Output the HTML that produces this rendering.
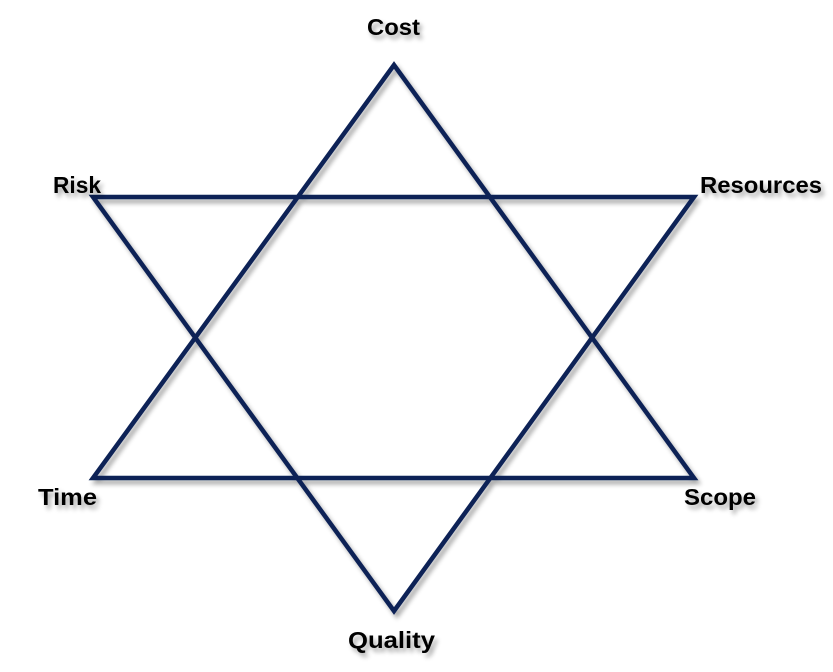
<!DOCTYPE html>
<html><head><meta charset="utf-8"><style>
html,body{margin:0;padding:0;background:#fff;width:833px;height:672px;overflow:hidden}
svg{display:block}
text{font-family:"Liberation Sans",sans-serif;font-weight:bold;font-size:23px;fill:#000}
</style></head><body>
<svg width="833" height="672" viewBox="0 0 833 672">
<defs>
<filter id="sh" x="-20%" y="-20%" width="150%" height="160%">
<feGaussianBlur in="SourceAlpha" stdDeviation="2.5"/>
<feOffset dx="3" dy="4" result="b"/>
<feComponentTransfer><feFuncA type="linear" slope="0.35"/></feComponentTransfer>
<feMerge><feMergeNode/><feMergeNode in="SourceGraphic"/></feMerge>
</filter>
</defs>
<g fill="none" stroke="#0d2257" stroke-width="4.5" stroke-linejoin="miter" filter="url(#sh)">
<polygon points="394,65 93,478 694,478"/>
<polygon points="93,197 694,197 394,611"/>
</g>
<g filter="url(#sh)">
<text x="367" y="35" textLength="53" lengthAdjust="spacingAndGlyphs">Cost</text>
<text x="53" y="193" textLength="48" lengthAdjust="spacingAndGlyphs">Risk</text>
<text x="700" y="193" textLength="122" lengthAdjust="spacingAndGlyphs">Resources</text>
<text x="38" y="505" textLength="59" lengthAdjust="spacingAndGlyphs">Time</text>
<text x="684" y="505" textLength="72" lengthAdjust="spacingAndGlyphs">Scope</text>
<text x="348" y="648" textLength="87" lengthAdjust="spacingAndGlyphs">Quality</text>
</g>
</svg>
</body></html>
